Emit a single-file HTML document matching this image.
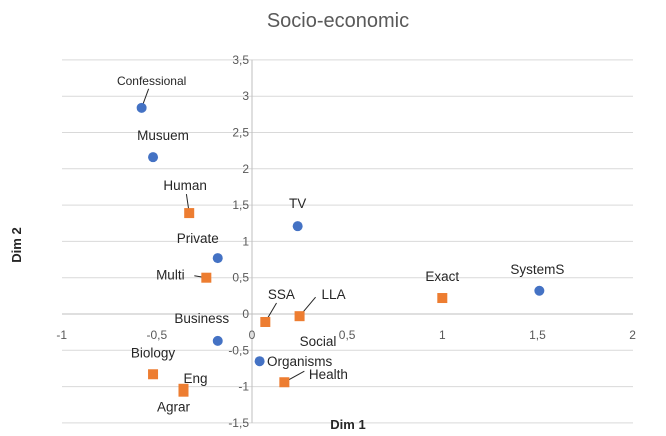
<!DOCTYPE html>
<html><head><meta charset="utf-8"><style>
body{margin:0;background:#fff;}
svg{display:block;font-family:"Liberation Sans",Arial,sans-serif;}
</style></head><body>
<svg id="chart" width="666" height="436" viewBox="0 0 666 436">
<text x="338" y="27" text-anchor="middle" font-size="20" fill="#595959">Socio-economic</text>
<g id="grid"></g><g id="ticks"></g><g id="labels"></g><g id="marks"></g>
<text x="348" y="429" text-anchor="middle" font-size="13" font-weight="bold" fill="#262626">Dim 1</text>
<text x="0" y="0" transform="translate(21,245) rotate(-90)" text-anchor="middle" font-size="13" font-weight="bold" fill="#262626">Dim 2</text>
<text x="318" y="346" text-anchor="middle" font-size="13.5" fill="#262626">Social</text>
</svg>
<script>
const names=["Confessional","Musuem","Human","TV","Private","Multi","Exact","SystemS","SSA","LLA","Business","Organisms","Health","Biology","Eng","Agrar"];
const xVals=[-0.58,-0.52,-0.33,0.24,-0.18,-0.24,1.0,1.51,0.07,0.25,-0.18,0.04,0.17,-0.52,-0.36,-0.36];
const yVals=[2.84,2.16,1.39,1.21,0.77,0.5,0.22,0.32,-0.11,-0.03,-0.37,-0.65,-0.94,-0.83,-1.03,-1.07];
const kinds=["c","c","s","c","c","s","s","c","s","s","c","c","s","s","s","s"];
const xTicks=[-1,-0.5,0,0.5,1,1.5,2];
const yTicks=[-1.5,-1,-0.5,0,0.5,1,1.5,2,2.5,3,3.5];
const lab={Confessional:[10,-23,1],Musuem:[10,-17,0],Human:[-4,-23,1],TV:[0,-18,0],Private:[-20,-15,0],Multi:[-36,2,1],Exact:[0,-17,0],SystemS:[-2,-17,0],SSA:[16,-23,1],LLA:[34,-17,1],Business:[-16,-18,0],Organisms:[40,5,0],Health:[44,-3,1],Biology:[0,-17,0],Eng:[12,-6,0],Agrar:[-10,20,0]};
const X=v=>252+v*190.3, Y=v=>314-v*72.6;
const ns="http://www.w3.org/2000/svg";
function mk(t,a,p){const e=document.createElementNS(ns,t);for(const k in a)e.setAttribute(k,a[k]);document.getElementById(p).appendChild(e);return e;}
yTicks.forEach(t=>{
 const l=mk("line",{x1:62,x2:633,y1:Y(t),y2:Y(t),stroke:t===0?"#bfbfbf":"#d9d9d9","stroke-width":1},"grid");
 
 
 const tx=mk("text",{x:X(0)-3,y:Y(t)+4,"text-anchor":"end","font-size":12,fill:"#595959"},"ticks");
 tx.textContent=String(t).replace(".",",");
 
 
});
const ax=mk("line",{x1:X(0),x2:X(0),y1:Y(3.5),y2:Y(-1.5),stroke:"#bfbfbf"},"grid");


xTicks.forEach(t=>{
 const tx=mk("text",{x:X(t),y:Y(0)+25,"text-anchor":"middle","font-size":12,fill:"#595959"},"ticks");
 tx.textContent=String(t).replace(".",",");
 
 
});
names.forEach((n,i)=>{
 const cx=X(xVals[i]),cy=Y(yVals[i]);
 let m;
 if(kinds[i]==="c") m=mk("circle",{cx:cx,cy:cy,r:5,fill:"#4472c4"},"marks");
 else m=mk("rect",{x:cx-5,y:cy-5,width:10,height:10,fill:"#ed7d31"},"marks");
 
 
 const o=lab[n];
 const fs=n==="Confessional"?12:13.5;
 const t=mk("text",{x:cx+o[0],y:cy+o[1],"text-anchor":"middle","font-size":fs,fill:"#262626"},"labels");
 t.textContent=n;
 
 
 if(o[2]){
  let x2=cx+o[0]*0.7,y2=cy+o[1]+4;
  if(n==="Multi"){x2=cx-12;y2=cy-2;}
  if(n==="Health"){x2=cx+20;y2=cy-11;}
  if(n==="LLA"){x2=cx+16;y2=cy-19;}
  const l=mk("line",{x1:cx,y1:cy,x2:x2,y2:y2,stroke:"#262626","stroke-width":1},"labels");
  
  
 }
});
</script>
</body></html>
